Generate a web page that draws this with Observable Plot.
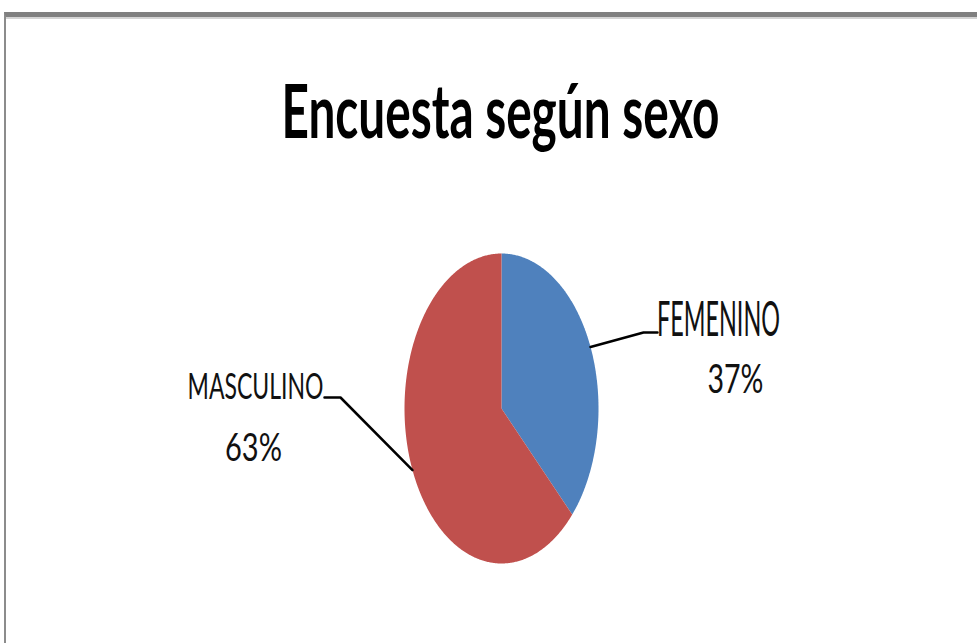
<!DOCTYPE html>
<html>
<head>
<meta charset="utf-8">
<script src="https://cdn.jsdelivr.net/npm/d3@7"></script>
<script src="https://cdn.jsdelivr.net/npm/@observablehq/plot@0.6"></script>
<style>
  html, body { margin: 0; padding: 0; background: #fff; width: 977px; height: 643px; overflow: hidden; }
  #wrap { position: relative; width: 977px; height: 643px; }
  #border1 { position: absolute; left: 4px; top: 12px; right: -20px; bottom: -20px;
             border-top: 5px solid #808080; border-left: 2px solid #8c8c8c; }
  #border2 { position: absolute; left: 6px; top: 17px; right: -20px; height: 2px; background: #d4d4d4; }
  #chart { position: absolute; left: 0; top: 0; }
</style>
</head>
<body>
<div id="wrap"><div id="border1"></div><div id="border2"></div><div id="chart"></div></div>
<script>
// ---- data ----
const title = "Encuesta según sexo";
const categories = ["FEMENINO", "MASCULINO"];
const values = [37, 63];
const colors = ["#4F81BD", "#C0504D"];

// ---- layout (pixels) ----
const W = 977, H = 643;
const cx = 501, cy = 408, rx = 97, ry = 155;
const toX = px => (px - cx) / rx;
const toY = py => (cy - py) / ry;
const titleLayout = {x: 500, baseline: 137, size: 74, width: 438};
const labelLayout = {
  FEMENINO:  {nameX: 718, nameBase: 335, nameSize: 48, nameW: 123, pctX: 735, pctBase: 392, pctSize: 40, pctW: 56,
              elbow: [643, 332], end: [657, 332]},
  MASCULINO: {nameX: 255, nameBase: 398, nameSize: 36, nameW: 136, pctX: 253, pctBase: 460, pctSize: 38, pctW: 57,
              elbow: [340, 397], end: [324, 397]}
};

// ---- pie geometry from values ----
const total = d3.sum(values);
const slices = [];
let acc = 0;
categories.forEach((c, i) => {
  const a0 = acc / total * 2 * Math.PI;
  acc += values[i];
  const a1 = acc / total * 2 * Math.PI;
  slices.push({cat: c, a0, a1, mid: (a0 + a1) / 2, value: values[i]});
});
const wedgePts = [];
for (const s of slices) {
  wedgePts.push({cat: s.cat, x: 0, y: 0});
  const n = Math.max(2, Math.ceil((s.a1 - s.a0) / (Math.PI / 360)));
  for (let k = 0; k <= n; k++) {
    const a = s.a0 + (s.a1 - s.a0) * k / n;
    wedgePts.push({cat: s.cat, x: Math.sin(a), y: Math.cos(a)});
  }
  wedgePts.push({cat: s.cat, x: 0, y: 0});
}
const leaderPts = [];
for (const s of slices) {
  const L = labelLayout[s.cat];
  leaderPts.push({cat: s.cat, x: Math.sin(s.mid), y: Math.cos(s.mid)});
  leaderPts.push({cat: s.cat, x: toX(L.elbow[0]), y: toY(L.elbow[1])});
  leaderPts.push({cat: s.cat, x: toX(L.end[0]), y: toY(L.end[1])});
}
const nameLabels = slices.map(s => ({text: s.cat, x: toX(labelLayout[s.cat].nameX), y: toY(labelLayout[s.cat].nameBase), size: labelLayout[s.cat].nameSize, w: labelLayout[s.cat].nameW}));
const pctLabels = slices.map(s => ({text: `${s.value}%`, x: toX(labelLayout[s.cat].pctX), y: toY(labelLayout[s.cat].pctBase), size: labelLayout[s.cat].pctSize, w: labelLayout[s.cat].pctW}));

const font = "Lato, 'Open Sans', sans-serif";

const chart = Plot.plot({
  width: W, height: H,
  margin: 0,
  style: {background: "none", overflow: "visible"},
  x: {domain: [-1, 1], range: [cx - rx, cx + rx], axis: null},
  y: {domain: [-1, 1], range: [cy + ry, cy - ry], axis: null},
  color: {domain: categories, range: colors},
  marks: [
    Plot.line(wedgePts, {x: "x", y: "y", z: "cat", fill: "cat", stroke: "none", curve: "linear"}),
    Plot.line(leaderPts, {x: "x", y: "y", z: "cat", stroke: "#000", strokeWidth: 2.5, curve: "linear"}),
    Plot.text([title], {frameAnchor: "top-left", dx: titleLayout.x, dy: titleLayout.baseline, text: d => d,
      lineAnchor: "bottom", textAnchor: "middle", fontSize: titleLayout.size, fontWeight: "bold",
      fontFamily: font, fill: "#000"}),
    Plot.text(nameLabels, {x: "x", y: "y", text: "text", lineAnchor: "bottom", textAnchor: "middle",
      fontSize: d => d.size, fontFamily: font, fill: "#111"}),
    Plot.text(pctLabels, {x: "x", y: "y", text: "text", lineAnchor: "bottom", textAnchor: "middle",
      fontSize: d => d.size, fontFamily: font, fill: "#111"})
  ]
});
document.getElementById("chart").appendChild(chart);

// horizontally condense text to the reference widths (title, names, percentages in drawing order)
const targetWidths = [titleLayout.width, ...nameLabels.map(d => d.w), ...pctLabels.map(d => d.w)];
chart.querySelectorAll("text").forEach((t, i) => {
  if (targetWidths[i] == null) return;
  const w = t.getBBox().width;
  if (!w) return;
  let tr = t.getAttribute("transform");
  if (!tr) {
    const g = t.parentNode;
    tr = "";
    const x = t.getAttribute("x"), y = t.getAttribute("y");
    tr = `translate(${x || 0},${y || 0})`;
    t.removeAttribute("x"); t.removeAttribute("y");
  }
  t.setAttribute("transform", `${tr} scale(${targetWidths[i] / w},1)`);
});
</script>
</body>
</html>
